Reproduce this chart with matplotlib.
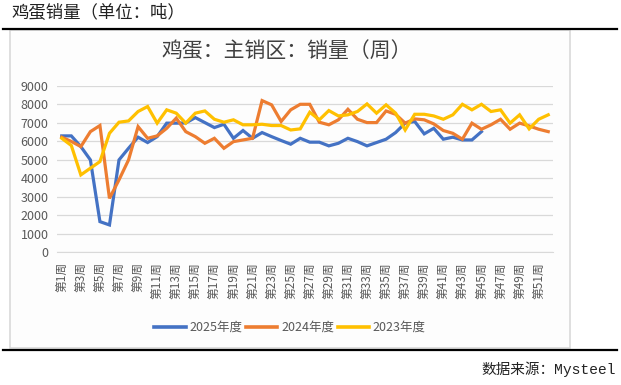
import matplotlib
matplotlib.use("Agg")
import matplotlib.pyplot as plt
from matplotlib.patches import Rectangle
from matplotlib.lines import Line2D

plt.rcParams['font.family'] = ['Noto Sans CJK SC', 'DejaVu Sans']

# 周销量（吨）
weeks = list(range(1, 53))
sales_2025 = [6300, 6300, 5720, 5000, 1660, 1480, 5000, 5630, 6230, 5940,
              6260, 6990, 6990, 7000, 7290, 7020, 6750, 6930, 6170, 6590,
              6170, 6480, 6260, 6050, 5850, 6170, 5960, 5960, 5760, 5900,
              6170, 5990, 5760, 5940, 6120, 6480, 6990, 7080, 6410, 6710,
              6120, 6230, 6080, 6080, 6530]
sales_2024 = [6230, 6000, 5720, 6530, 6860, 2920, 3920, 5000, 6800, 6170,
              6300, 6710, 7260, 6530, 6260, 5900, 6170, 5630, 5990, 6080,
              6170, 8210, 7980, 7080, 7710, 8010, 8010, 7040, 6900, 7170,
              7740, 7200, 7020, 7020, 7650, 7470, 6990, 7220, 7170, 6950,
              6590, 6440, 6120, 6990, 6660, 6900, 7200, 6660, 6990, 6840,
              6660, 6530]
sales_2023 = [6170, 5780, 4190, 4550, 4910, 6440, 7040, 7110, 7620, 7890,
              6990, 7710, 7530, 6990, 7530, 7650, 7200, 7040, 7170, 6900,
              6900, 6930, 6860, 6860, 6620, 6680, 7580, 7170, 7670, 7380,
              7440, 7620, 8030, 7530, 7980, 7530, 6620, 7470, 7470, 7380,
              7200, 7440, 8010, 7710, 8010, 7620, 7710, 6990, 7440, 6680,
              7200, 7440]
series_names = ['2025年度', '2024年度', '2023年度']
colors = ['#4472C4', '#ED7D31', '#FFC000']
tick_weeks = weeks[::2]
tick_labels = ['第%d周' % w for w in tick_weeks]

W, H = 621, 385
fig = plt.figure(figsize=(W / 100, H / 100), dpi=100)

# 外框和黑线
fig.patches.append(Rectangle((10 / W, 1 - 348 / H), 560 / W, 318 / H,
                             transform=fig.transFigure, facecolor='#FDFDFD',
                             edgecolor='#D9D9D9', linewidth=1.2, zorder=-5))
fig.lines.append(Line2D([3 / W, 617 / W], [1 - 28.5 / H] * 2,
                        transform=fig.transFigure, color='black', linewidth=1.6))
fig.lines.append(Line2D([3 / W, 617 / W], [1 - 350 / H] * 2,
                        transform=fig.transFigure, color='black', linewidth=1.6))

fig.text(11 / W, 1 - 12.5 / H, '鸡蛋销量（单位：吨）', fontsize=12.5,
         color='#222222', va='center', ha='left')
fig.text(616 / W, 1 - 369 / H, '数据来源：Mysteel', fontsize=10.5,
         family=['Liberation Mono', 'Noto Sans CJK SC'],
         color='#222222', va='center', ha='right')
fig.text(287 / W, 1 - 52 / H, '鸡蛋：主销区：销量（周）', fontsize=15,
         color='#404040', va='center', ha='center')

ax = fig.add_axes([57 / W, 132.7 / H, 496 / W, 166.3 / H])
ax.set_facecolor('none')
data = [sales_2025, sales_2024, sales_2023]
for vals, name, c in zip(data, series_names, colors):
    ax.plot(weeks[:len(vals)], vals, color=c, linewidth=2.3, label=name,
            solid_joinstyle='miter')

ax.set_xlim(0.5, 52.5)
ax.set_ylim(0, 9000)
ax.set_yticks(range(0, 9001, 1000))
ax.set_xticks(tick_weeks)
ax.set_xticklabels(tick_labels, rotation=90, fontsize=8.5, color='#595959')
ax.tick_params(axis='y', labelsize=9, colors='#595959', length=0, pad=6)
ax.tick_params(axis='x', length=0, pad=7)
ax.grid(axis='y', color='#D9D9D9', linewidth=0.9)
ax.set_axisbelow(True)
for s in ['top', 'right', 'left']:
    ax.spines[s].set_visible(False)
ax.spines['bottom'].set_color('#D9D9D9')

leg = fig.legend(loc='center', bbox_to_anchor=(290 / W, 1 - 327.5 / H), ncol=3,
                 frameon=False, fontsize=9, handlelength=2.5, handletextpad=0.3,
                 columnspacing=0.3, borderaxespad=0)
for t in leg.get_texts():
    t.set_color('#595959')
for l in leg.get_lines():
    l.set_linewidth(2.6)

fig.savefig('out.png', dpi=100)
